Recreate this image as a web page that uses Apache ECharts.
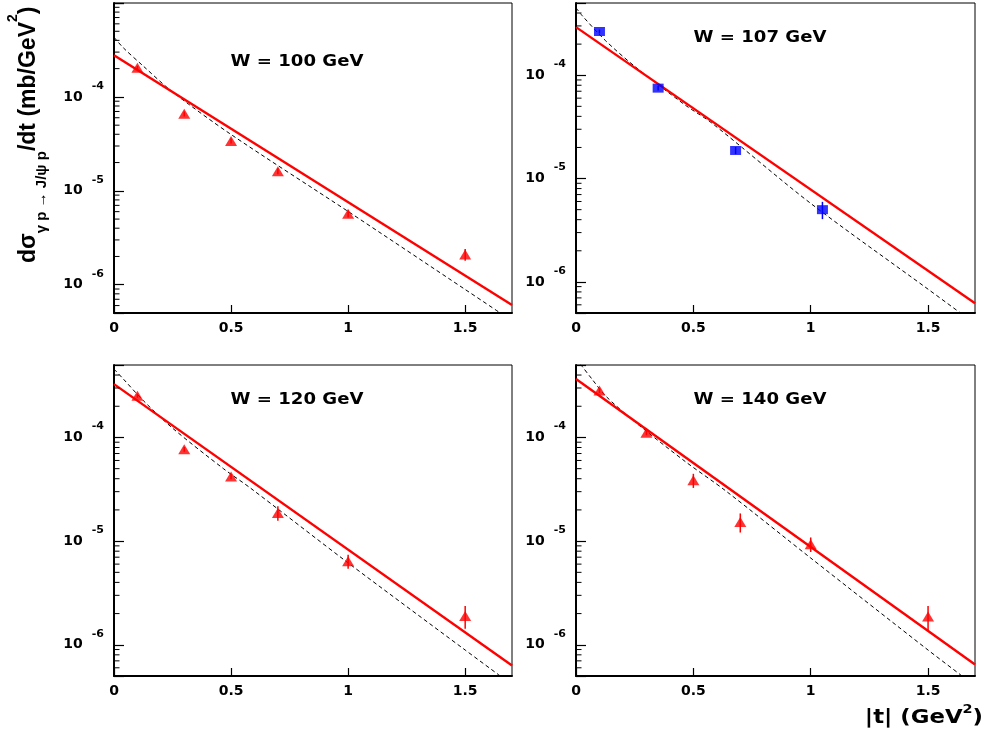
<!DOCTYPE html>
<html>
<head>
<meta charset="utf-8">
<script src="https://cdn.jsdelivr.net/npm/echarts@6/dist/echarts.min.js"></script>
<style>
  html, body { margin: 0; padding: 0; background: #fff; }
  #chart { width: 986px; height: 740px; }
</style>
</head>
<body>
<div id="chart"></div>
<script>
// |t| bins (GeV^2) of the measured points
const tBins = [0.1, 0.3, 0.5, 0.7, 1.0, 1.5];
const tBins107 = [0.1, 0.35, 0.68, 1.05];

// dσ/dt (mb/GeV^2) and their errors
const sigma100 = [2.04e-4, 6.6e-5, 3.4e-5, 1.62e-5, 5.7e-6, 2.1e-6];
const err100   = [1.0e-5, 4.0e-6, 2.0e-6, 1.2e-6, 5.0e-7, 3.0e-7];
const sigma107 = [2.65e-4, 7.5e-5, 1.87e-5, 5.0e-6];
const err107   = [1.2e-5, 4.0e-6, 1.5e-6, 9.5e-7];
const sigma120 = [2.53e-4, 7.7e-5, 4.2e-5, 1.87e-5, 6.4e-6, 1.9e-6];
const err120   = [1.2e-5, 4.0e-6, 2.5e-6, 3.0e-6, 1.0e-6, 4.7e-7];
const sigma140 = [2.83e-4, 1.11e-4, 3.86e-5, 1.53e-5, 9.35e-6, 1.87e-6];
const err140   = [1.4e-5, 6.0e-6, 6.0e-6, 3.2e-6, 1.5e-6, 5.0e-7];

// exponential fits (solid red): values at |t| = 0 and |t| = 1.7
const fitT   = [0, 1.7];
const fit100 = [2.78e-4, 6.07e-7];
const fit107 = [2.92e-4, 6.2e-7];
const fit120 = [3.27e-4, 6.3e-7];
const fit140 = [3.66e-4, 6.45e-7];

// model curves (dashed black)
const modelT100 = [0, 0.04, 0.125, 0.25, 0.5, 1.0, 1.5, 1.65];
const modelY100 = [4.32e-4, 3.33e-4, 2.13e-4, 1.13e-4, 3.98e-5, 6.03e-6, 8.9e-7, 5.0e-7];
const modelT107 = [0, 0.026, 0.125, 0.25, 0.465, 0.579, 1.0, 1.5, 1.638];
const modelY107 = [4.5e-4, 3.78e-4, 2.17e-4, 1.22e-4, 5.15e-5, 3.44e-5, 5.75e-6, 8.5e-7, 5.0e-7];
const modelT120 = [0, 0.04, 0.125, 0.25, 0.468, 0.582, 1.0, 1.5, 1.65];
const modelY120 = [4.57e-4, 3.66e-4, 2.27e-4, 1.23e-4, 4.99e-5, 3.26e-5, 6.17e-6, 8.9e-7, 5.0e-7];
const modelT140 = [0, 0.026, 0.068, 0.125, 0.25, 0.465, 0.635, 1.0, 1.5, 1.645];
const modelY140 = [5.75e-4, 4.85e-4, 3.66e-4, 2.53e-4, 1.42e-4, 5.87e-5, 3.09e-5, 6.87e-6, 8.9e-7, 5.0e-7];

// axis ticks and labels
const xTickValues = [0, 0.5, 1, 1.5];
const xTickLabels = ['0', '0.5', '1', '1.5'];
const yLabelExponents = [-6, -5, -4];
const yMinorTicks = [
  6e-7, 7e-7, 8e-7, 9e-7,
  2e-6, 3e-6, 4e-6, 5e-6, 6e-6, 7e-6, 8e-6, 9e-6,
  2e-5, 3e-5, 4e-5, 5e-5, 6e-5, 7e-5, 8e-5, 9e-5,
  2e-4, 3e-4, 4e-4, 5e-4, 6e-4, 7e-4, 8e-4, 9e-4
];
const panelTitles = ['W = 100 GeV', 'W = 107 GeV', 'W = 120 GeV', 'W = 140 GeV'];
const yMin = 5e-7;
const yMaxes = [1e-3, 5e-4, 5e-4, 5e-4];

const panels = [
  { t: tBins,    y: sigma100, e: err100, fit: fit100, mt: modelT100, my: modelY100, color: '#ff0000', symbol: 'triangle', size: [12, 10] },
  { t: tBins107, y: sigma107, e: err107, fit: fit107, mt: modelT107, my: modelY107, color: '#0000ff', symbol: 'rect',     size: [11, 9] },
  { t: tBins,    y: sigma120, e: err120, fit: fit120, mt: modelT120, my: modelY120, color: '#ff0000', symbol: 'triangle', size: [12, 10] },
  { t: tBins,    y: sigma140, e: err140, fit: fit140, mt: modelT140, my: modelY140, color: '#ff0000', symbol: 'triangle', size: [12, 10] }
];

// frame geometry of the 2x2 layout
const frames = [
  { left: 114, top: 3,   width: 398, height: 310, tx: 297, ty: 62 },
  { left: 576, top: 3,   width: 399, height: 310, tx: 760, ty: 38 },
  { left: 114, top: 365, width: 398, height: 311, tx: 297, ty: 400 },
  { left: 576, top: 365, width: 399, height: 311, tx: 760, ty: 400 }
];

const FONT = 'DejaVu Sans';
const grids = [], xAxes = [], yAxes = [], series = [], graphics = [];

panels.forEach((p, i) => {
  const f = frames[i];
  grids.push({
    left: f.left, top: f.top, width: f.width, height: f.height,
    show: true, borderColor: '#000', borderWidth: 1, backgroundColor: 'transparent'
  });
  xAxes.push({
    type: 'value', gridIndex: i, min: 0, max: 1.7, interval: 0.5,
    axisLine: { lineStyle: { color: '#000', width: 2 } },
    axisTick: { inside: true, length: 8, lineStyle: { color: '#000', width: 1.2 } },
    splitLine: { show: false },
    axisLabel: {
      margin: 8, showMaxLabel: false, color: '#000',
      fontFamily: FONT, fontWeight: 'bold', fontSize: 14,
      formatter: v => {
        const k = xTickValues.findIndex(x => Math.abs(x - v) < 1e-9);
        return k >= 0 ? xTickLabels[k] : '';
      }
    }
  });
  yAxes.push({
    type: 'log', logBase: 10, gridIndex: i, min: yMin, max: yMaxes[i],
    axisLine: { lineStyle: { color: '#000', width: 2 } },
    axisTick: { inside: true, length: 10, lineStyle: { color: '#000', width: 1.2 } },
    splitLine: { show: false },
    minorTick: { show: false },
    axisLabel: {
      margin: 10,
      formatter: v => {
        const lg = Math.log10(v);
        const e = Math.round(lg);
        if (Math.abs(lg - e) > 1e-6 || yLabelExponents.indexOf(e) < 0) return '';
        return '{b|10}{s|' + e + '}';
      },
      rich: {
        b: { fontFamily: FONT, fontWeight: 'bold', fontSize: 14, color: '#000' },
        s: { fontFamily: FONT, fontWeight: 'bold', fontSize: 11, color: '#000', padding: [0, 0, 22, 9] }
      }
    }
  });

  // minor ticks of the log axis (2..9 per decade)
  series.push({
    type: 'custom', xAxisIndex: i, yAxisIndex: i, silent: true, z: 6,
    data: yMinorTicks.filter(v => v > yMin && v < yMaxes[i]).map(v => [0, v]),
    renderItem: (params, api) => {
      const c = api.coord([0, api.value(1)]);
      return { type: 'line', shape: { x1: c[0], y1: c[1], x2: c[0] + 5.5, y2: c[1] },
               style: { stroke: '#000', lineWidth: 1 } };
    }
  });

  // dashed model curve
  series.push({
    type: 'line', xAxisIndex: i, yAxisIndex: i, z: 2, silent: true,
    data: p.mt.map((t, k) => [t, p.my[k]]),
    showSymbol: false, smooth: 0.3,
    lineStyle: { color: '#000', width: 1, type: [4, 3] }
  });

  // exponential fit
  series.push({
    type: 'line', xAxisIndex: i, yAxisIndex: i, z: 3, silent: true,
    data: fitT.map((t, k) => [t, p.fit[k]]),
    showSymbol: false,
    lineStyle: { color: '#ff0000', width: 2.4 }
  });

  // error bars
  series.push({
    type: 'custom', xAxisIndex: i, yAxisIndex: i, z: 4, silent: true,
    data: p.t.map((t, k) => [t, p.y[k], p.e[k]]),
    encode: { x: 0, y: 1 },
    renderItem: (params, api) => {
      const t = api.value(0), y = api.value(1), e = api.value(2);
      const lo = api.coord([t, y - e]);
      const hi = api.coord([t, y + e]);
      return { type: 'line', shape: { x1: lo[0], y1: lo[1], x2: hi[0], y2: hi[1] },
               style: { stroke: p.color, lineWidth: 1.5 } };
    }
  });

  // data points
  series.push({
    type: 'scatter', xAxisIndex: i, yAxisIndex: i, z: 5,
    data: p.t.map((t, k) => [t, p.y[k]]),
    symbol: p.symbol, symbolSize: p.size,
    itemStyle: { color: p.color }
  });

  graphics.push({
    type: 'text', x: f.tx, y: f.ty, scaleX: 1.13, silent: true,
    style: {
      text: panelTitles[i], fill: '#000',
      font: 'bold 16px "DejaVu Sans"', align: 'center', verticalAlign: 'middle'
    }
  });
});

// y-axis title, reading bottom to top
graphics.push({
  type: 'text', x: 29, y: 263, rotation: Math.PI / 2, silent: true,
  style: {
    text: '{m|dσ}{s|γ p → J/ψ p}{m|/dt (mb/GeV}{p|2}{m|)}',
    align: 'left', verticalAlign: 'middle',
    rich: {
      m: { fontFamily: 'Liberation Sans', fontWeight: 'bold', fontSize: 23, fill: '#000' },
      s: { fontFamily: 'Liberation Sans', fontWeight: 'bold', fontSize: 15, fill: '#000', padding: [26, 0, 0, 0] },
      p: { fontFamily: 'Liberation Sans', fontWeight: 'bold', fontSize: 14, fill: '#000', padding: [0, 0, 32, 0] }
    }
  }
});

// x-axis title
graphics.push({
  type: 'text', x: 983, y: 718, scaleX: 1.2, silent: true,
  style: {
    text: '{m||t| (GeV}{p|2}{m|)}',
    align: 'right', verticalAlign: 'middle',
    rich: {
      m: { fontFamily: FONT, fontWeight: 'bold', fontSize: 19, fill: '#000' },
      p: { fontFamily: FONT, fontWeight: 'bold', fontSize: 12, fill: '#000', padding: [0, 0, 16, 0] }
    }
  }
});

const chart = echarts.init(document.getElementById('chart'), null, { renderer: 'canvas' });
chart.setOption({
  animation: false,
  backgroundColor: '#fff',
  grid: grids,
  xAxis: xAxes,
  yAxis: yAxes,
  series: series,
  graphic: graphics
});
</script>
</body>
</html>
